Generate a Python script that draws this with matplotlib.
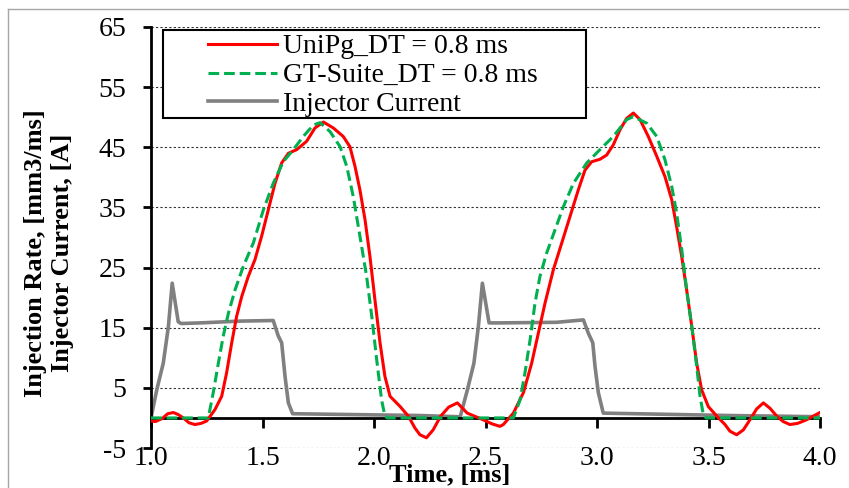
import matplotlib
matplotlib.use("Agg")
import matplotlib.pyplot as plt
from matplotlib.patches import Rectangle
from matplotlib.lines import Line2D

# ---- data ----
t_current = [1.000, 1.026, 1.055, 1.078, 1.095, 1.122, 1.135, 1.22, 1.40, 1.548,
             1.571, 1.586, 1.601, 1.616, 1.635, 2.206, 2.38,
             2.386, 2.419, 2.448, 2.468, 2.486, 2.516, 2.565, 2.819, 2.939,
             2.961, 2.981, 2.991, 3.006, 3.028, 3.596, 4.0]
i_current = [0.0, 4.7, 9.1, 15.2, 22.4, 16.0, 15.7, 15.8, 16.1, 16.2,
             13.6, 12.5, 6.9, 2.5, 0.7, 0.4, 0.2,
             0.1, 4.7, 9.1, 15.2, 22.4, 15.8, 15.8, 15.9, 16.3,
             14.1, 12.5, 8.6, 4.2, 0.8, 0.4, 0.2]

t_unipg = [1.000, 1.02, 1.05, 1.075, 1.10, 1.12, 1.145, 1.17, 1.197, 1.225,
           1.25, 1.287, 1.317, 1.339, 1.362, 1.384, 1.407, 1.436, 1.466, 1.496,
           1.526, 1.556, 1.586, 1.616, 1.653, 1.698, 1.735, 1.773, 1.818, 1.862,
           1.892, 1.915, 1.937, 1.960, 1.982, 2.004, 2.027, 2.049, 2.072, 2.117,
           2.154, 2.184, 2.206, 2.235, 2.265, 2.299, 2.335, 2.374, 2.418, 2.489,
           2.530, 2.565, 2.580, 2.625, 2.670, 2.707, 2.737, 2.767, 2.804, 2.842,
           2.879, 2.916, 2.946, 2.976, 3.013, 3.043, 3.073, 3.103, 3.133, 3.163,
           3.193, 3.230, 3.268, 3.305, 3.335, 3.357, 3.380, 3.402, 3.425, 3.447,
           3.469, 3.499, 3.537, 3.574, 3.596, 3.626, 3.656, 3.686, 3.716, 3.746,
           3.776, 3.806, 3.835, 3.865, 3.90, 3.94, 4.0]
q_unipg = [-0.5, -0.6, -0.1, 0.7, 0.9, 0.6, 0.0, -0.8, -1.1, -0.9,
           -0.5, 1.4, 3.6, 7.5, 12.5, 16.9, 20.2, 23.5, 26.3, 30.2,
           34.6, 39.0, 42.4, 44.0, 44.6, 46.0, 48.2, 49.2, 48.2, 46.8,
           45.1, 41.8, 37.9, 32.9, 26.8, 19.7, 12.5, 6.9, 3.6, 1.9,
           0.3, -1.7, -2.8, -3.3, -2.0, 0.3, 1.8, 2.5, 0.8, -0.3,
           -1.0, -1.4, -1.1, 0.8, 4.2, 9.1, 14.1, 19.1, 24.6, 29.1,
           33.5, 37.9, 41.2, 42.6, 43.0, 43.7, 45.4, 47.9, 49.8, 50.7,
           49.6, 46.8, 43.5, 40.1, 36.3, 31.8, 26.8, 21.3, 15.2, 9.1,
           4.7, 1.9, 0.3, -1.1, -2.2, -2.8, -2.0, -0.3, 1.5, 2.5,
           1.6, 0.3, -0.6, -1.1, -0.9, -0.3, 0.9]

t_gt = [1.0, 1.257, 1.279, 1.302, 1.324, 1.347, 1.377, 1.414, 1.459, 1.504,
        1.548, 1.593, 1.638, 1.683, 1.728, 1.758, 1.803, 1.848, 1.878, 1.907,
        1.937, 1.967, 1.990, 2.012, 2.034, 2.049, 2.06, 2.625, 2.655, 2.677,
        2.700, 2.722, 2.744, 2.774, 2.812, 2.849, 2.894, 2.954, 3.013, 3.073,
        3.133, 3.163, 3.223, 3.268, 3.305, 3.335, 3.357, 3.380, 3.402, 3.425,
        3.447, 3.462, 3.477, 3.49, 4.0]
q_gt = [0.0, 0.0, 4.2, 9.1, 13.6, 17.4, 21.3, 25.2, 29.1, 34.6,
        39.0, 42.6, 44.6, 46.8, 48.7, 49.1, 47.6, 45.1, 41.8, 36.8,
        30.2, 23.5, 16.9, 9.7, 3.0, 0.3, 0.0, 0.0, 3.0, 7.5,
        13.0, 19.1, 23.5, 27.4, 31.3, 35.1, 39.0, 42.4, 44.6, 46.8,
        49.6, 50.1, 49.0, 46.8, 42.9, 38.5, 34.1, 28.0, 21.3, 15.2,
        8.6, 3.6, 0.5, 0.0, 0.0]

x_ticks = [1.0, 1.5, 2.0, 2.5, 3.0, 3.5, 4.0]
y_ticks = [-5, 5, 15, 25, 35, 45, 55, 65]
labels = ["UniPg_DT = 0.8 ms", "GT-Suite_DT = 0.8 ms", "Injector Current"]

plt.rcParams['font.family'] = ['Liberation Serif', 'DejaVu Serif']

fig = plt.figure(figsize=(8.49, 4.88), dpi=100)
ax = fig.add_axes([151/849, 1 - 448/488, (820 - 151)/849, (448 - 27)/488])

ax.set_xlim(1.0, 4.0)
ax.set_ylim(-5, 65)

for yv in y_ticks:
    ax.axhline(yv, color='#303030', lw=0.8, ls=(0, (2, 2)), zorder=1)

l1, = ax.plot(t_unipg, q_unipg, color='#FF0000', lw=2.2, zorder=3,
              solid_joinstyle='round')
l2, = ax.plot(t_gt, q_gt, color='#00B050', lw=2.2, ls=(0, (3.5, 1.6)), zorder=4)
l3, = ax.plot(t_current, i_current, color='#808080', lw=2.6, zorder=2,
              solid_joinstyle='round')

ax.spines['top'].set_visible(False)
ax.spines['right'].set_visible(False)
ax.spines['bottom'].set_position(('data', 0))
ax.spines['bottom'].set_linewidth(2.0)
ax.spines['left'].set_linewidth(2.0)
ax.spines['bottom'].set_zorder(2.5)

ax.set_xticks(x_ticks)
ax.set_xticklabels([f"{v:.1f}" for v in x_ticks])
ax.set_yticks(y_ticks)
ax.set_yticklabels([str(v) for v in y_ticks])
ax.tick_params(axis='x', direction='out', length=7, width=2, pad=13, labelsize=20)
ax.tick_params(axis='y', direction='out', length=6, width=2, pad=12, labelsize=20)

ax.set_xlabel("Time, [ms]", fontsize=19, fontweight='bold')
ax.xaxis.set_label_coords((450 - 151)/669, (448 - 475)/421)
ax.xaxis.label.set_verticalalignment('center')

ax.set_ylabel("Injection Rate, [mm3/ms]\nInjector Current, [A]", fontsize=19,
              fontweight='bold')
ax.yaxis.set_label_coords((49 - 151)/669, (448 - 253)/421)
ax.yaxis.label.set_verticalalignment('center')

leg = ax.legend([l1, l2, l3], labels, loc='upper left',
                bbox_to_anchor=((208 - 151)/669, (448 - 34)/421),
                frameon=False, fontsize=20, handlelength=2.5, handletextpad=0.2,
                labelspacing=0.12, borderpad=0, borderaxespad=0)
leg.set_zorder(6)

box = Rectangle(((163 - 151)/669, (448 - 118)/421), (586 - 163)/669, (118 - 30)/421,
                transform=ax.transAxes, facecolor='white', edgecolor='black',
                lw=1.5, zorder=5, clip_on=False)
ax.add_patch(box)

fig.add_artist(Line2D([8/849, 8/849], [0, 1 - 9/488], transform=fig.transFigure,
                      color='#a6a6a6', lw=1))
fig.add_artist(Line2D([8/849, 1], [1 - 9/488, 1 - 9/488], transform=fig.transFigure,
                      color='#a6a6a6', lw=1))

fig.savefig("out.png", dpi=100)
